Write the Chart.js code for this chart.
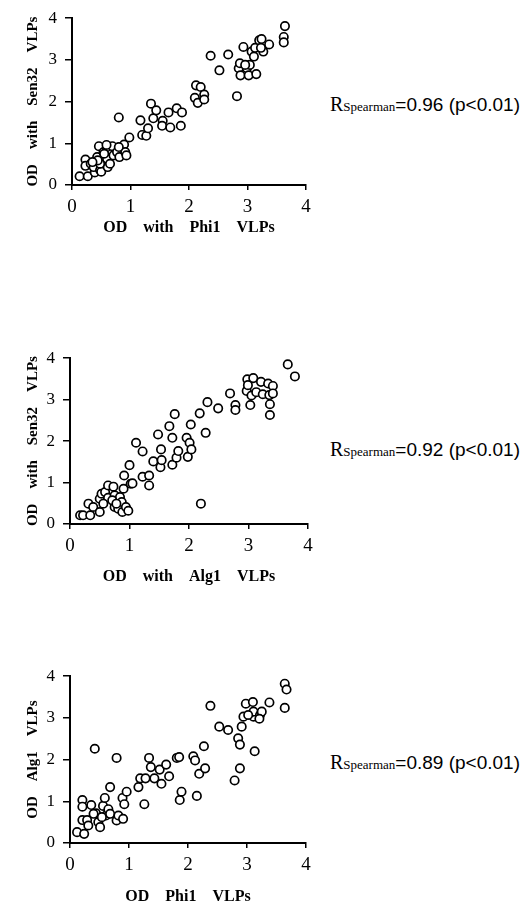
<!DOCTYPE html>
<html>
<head>
<meta charset="utf-8">
<script src="https://cdn.jsdelivr.net/npm/chart.js@4.4.1/dist/chart.umd.min.js"></script>
<style>
  body { margin: 0; background: #fff; width: 529px; height: 907px; position: relative; overflow: hidden; }
  canvas { position: absolute; left: 0; }
  .rs { position: absolute; left: 330px; color: #000; white-space: nowrap; line-height: 1; font-family: "Liberation Serif", serif; }
  .rs span { color: #000; }
  .rs .r { font-size: 20px; }
  .rs .sub { font-size: 13px; }
  .rs .val { font-family: "Liberation Sans", sans-serif; font-size: 19px; }
</style>
</head>
<body>
<canvas id="c1" width="320" height="237" style="top:0px"></canvas>
<canvas id="c2" width="320" height="246" style="top:340px"></canvas>
<canvas id="c3" width="320" height="248" style="top:658px"></canvas>
<div class="rs" style="top:94px"><span class="r">R</span><span class="sub">Spearman</span><span class="val">=0.96 (p&lt;0.01)</span></div>
<div class="rs" style="top:439px"><span class="r">R</span><span class="sub">Spearman</span><span class="val">=0.92 (p&lt;0.01)</span></div>
<div class="rs" style="top:752px"><span class="r">R</span><span class="sub">Spearman</span><span class="val">=0.89 (p&lt;0.01)</span></div>
<script>
// axis ticks shared by all three panels
const tickValues = [0, 1, 2, 3, 4];

// panel 1: Phi1 (x) vs Sen32 (y)
const phiSenX = [0.13, 0.27, 0.23, 0.23, 0.39, 0.32, 0.43, 0.46, 0.37, 0.48, 0.50, 0.54, 0.60, 0.60, 0.61, 0.65,
  0.69, 0.59, 0.71, 0.77, 0.81, 0.80, 0.89, 0.91, 0.93, 0.98, 0.48, 0.44, 1.17, 1.20, 1.27, 1.30, 1.35, 1.39,
  1.44, 1.55, 1.54, 1.65, 1.68, 1.79, 1.88, 1.86, 2.12, 2.10, 2.15, 2.20, 2.26, 2.26, 2.37, 2.52, 2.67, 2.82,
  2.85, 2.87, 2.88, 2.93, 2.99, 3.02, 3.04, 3.07, 3.11, 3.15, 3.13, 3.20, 3.24, 3.27, 3.37, 3.64, 3.62, 3.62,
  2.96, 3.23, 0.80, 0.35, 0.55];
const phiSenY = [0.21, 0.21, 0.61, 0.46, 0.30, 0.51, 0.67, 0.93, 0.43, 0.36, 0.32, 0.79, 0.91, 0.63, 0.43, 0.51,
  0.93, 0.96, 0.71, 0.79, 0.67, 1.62, 0.97, 0.79, 0.71, 1.14, 0.51, 0.59, 1.55, 1.20, 1.18, 1.36, 1.95, 1.60,
  1.79, 1.54, 1.42, 1.74, 1.38, 1.84, 1.74, 1.42, 2.39, 2.09, 1.97, 2.35, 2.17, 2.05, 3.10, 2.75, 3.13, 2.13,
  2.80, 2.92, 2.63, 3.31, 2.80, 2.63, 2.88, 3.20, 3.08, 2.66, 3.29, 3.47, 3.50, 3.20, 3.37, 3.81, 3.55, 3.42,
  2.88, 3.29, 0.91, 0.55, 0.75];

// panel 2: Alg1 (x) vs Sen32 (y)
const algSenX = [0.17, 0.22, 0.34, 0.31, 0.39, 0.50, 0.50, 0.53, 0.59, 0.64, 0.73, 0.64, 0.75, 0.75, 0.81, 0.84,
  0.87, 0.88, 0.94, 0.98, 0.90, 0.91, 1.00, 1.02, 1.05, 1.11, 1.22, 1.22, 1.33, 1.33, 1.40, 1.48, 1.52, 1.53,
  1.54, 1.67, 1.72, 1.72, 1.76, 1.79, 1.82, 1.96, 1.98, 2.01, 2.03, 2.04, 2.18, 2.20, 2.28, 2.31, 2.49, 2.69,
  2.78, 2.78, 2.97, 2.98, 2.99, 3.03, 3.05, 3.08, 3.13, 3.21, 3.24, 3.33, 3.35, 3.36, 3.36, 3.41, 3.41, 3.66,
  3.78, 0.56, 0.71, 0.78];
const algSenY = [0.21, 0.21, 0.21, 0.49, 0.41, 0.29, 0.61, 0.73, 0.77, 0.93, 0.90, 0.63, 0.69, 0.41, 0.37, 0.65,
  0.53, 0.29, 0.41, 0.32, 0.85, 1.17, 1.42, 0.97, 0.98, 1.96, 1.75, 1.14, 1.17, 0.93, 1.51, 2.16, 1.37, 1.80,
  1.54, 2.36, 2.08, 1.43, 2.65, 1.60, 1.76, 2.08, 1.62, 1.96, 2.40, 1.80, 2.67, 0.49, 2.20, 2.94, 2.79, 3.15,
  2.87, 2.75, 3.21, 3.49, 3.35, 2.87, 3.10, 3.52, 3.18, 3.43, 3.13, 3.39, 3.11, 2.89, 2.63, 3.33, 3.15, 3.85,
  3.56, 0.49, 0.57, 0.49];

// panel 3: Phi1 (x) vs Alg1 (y)
const phiAlgX = [0.12, 0.24, 0.21, 0.21, 0.21, 0.29, 0.31, 0.36, 0.42, 0.44, 0.48, 0.51, 0.56, 0.59, 0.61, 0.65,
  0.68, 0.68, 0.79, 0.79, 0.82, 0.90, 0.89, 0.92, 0.96, 0.54, 0.40, 1.16, 1.19, 1.26, 1.28, 1.34, 1.37, 1.43,
  1.52, 1.55, 1.63, 1.68, 1.81, 1.85, 1.86, 1.89, 2.09, 2.12, 2.15, 2.19, 2.27, 2.29, 2.38, 2.53, 2.68, 2.79,
  2.85, 2.88, 2.88, 2.91, 2.94, 2.98, 3.10, 3.11, 3.13, 3.11, 3.22, 3.25, 3.21, 3.38, 3.64, 3.67, 3.64, 3.02];
const phiAlgY = [0.26, 0.22, 1.03, 0.87, 0.55, 0.55, 0.42, 0.91, 2.26, 0.71, 0.50, 0.38, 0.89, 1.08, 0.66, 0.81,
  1.34, 0.70, 2.04, 0.54, 0.66, 0.58, 1.08, 0.93, 1.23, 0.62, 0.70, 1.34, 1.55, 0.93, 1.55, 2.04, 1.82, 1.55,
  1.76, 1.42, 1.88, 1.60, 2.04, 2.06, 1.03, 1.23, 2.08, 1.98, 1.13, 1.66, 2.32, 1.79, 3.29, 2.79, 2.71, 1.50,
  2.51, 2.36, 1.79, 2.79, 3.03, 3.34, 3.38, 3.03, 2.20, 3.15, 3.07, 3.15, 2.98, 3.37, 3.82, 3.68, 3.24, 3.07];

const panels = [
  { id: 'c1', xs: phiSenX, ys: phiSenY, left: 72, right: 306, xh: 52, xTitle: 'OD    with    Phi1    VLPs', yTitle: 'OD    with    Sen32    VLPs' },
  { id: 'c2', xs: algSenX, ys: algSenY, left: 70, right: 308, xh: 62, xTitle: 'OD    with    Alg1    VLPs', yTitle: 'OD    with    Sen32    VLPs' },
  { id: 'c3', xs: phiAlgX, ys: phiAlgY, left: 70, right: 306, xh: 63, xTitle: 'OD    Phi1    VLPs', yTitle: 'OD    Alg1    VLPs' }
];

const SERIF = '"Liberation Serif", "Times New Roman", serif';

function makePanel(p) {
  const pts = p.xs.map((x, i) => ({ x: x, y: p.ys[i] }));
  const canvas = document.getElementById(p.id);
  new Chart(canvas, {
    type: 'scatter',
    data: {
      datasets: [{
        data: pts,
        pointRadius: 4.2,
        pointBorderWidth: 1.7,
        pointBackgroundColor: '#fff',
        pointBorderColor: '#000'
      }]
    },
    options: {
      responsive: false,
      animation: false,
      layout: { padding: { top: 16, right: canvas.width - p.right, left: 0, bottom: 0 } },
      plugins: { legend: { display: false }, tooltip: { enabled: false } },
      scales: {
        x: {
          type: 'linear', min: 0, max: 4,
          afterBuildTicks: s => { s.ticks = tickValues.map(v => ({ value: v })); },
          ticks: { color: '#000', font: { family: SERIF, size: 19 }, padding: 6, maxRotation: 0 },
          grid: { drawOnChartArea: false, tickLength: 5, color: '#000', lineWidth: 1.5 },
          border: { color: '#000', width: 2 },
          title: { display: true, text: p.xTitle, color: '#000', font: { family: SERIF, size: 16, weight: 'bold' }, padding: { top: 0, bottom: 0 } },
          afterFit: s => { s.height = p.xh; }
        },
        y: {
          type: 'linear', min: 0, max: 4,
          afterBuildTicks: s => { s.ticks = tickValues.map(v => ({ value: v })); },
          ticks: { color: '#000', font: { family: SERIF, size: 17 }, padding: 8 },
          grid: { drawOnChartArea: false, tickLength: 7, color: '#000', lineWidth: 1.5 },
          border: { color: '#000', width: 2 },
          title: { display: true, text: p.yTitle, color: '#000', font: { family: SERIF, size: 15, weight: 'bold' }, padding: { top: 24, bottom: 0 } },
          afterFit: s => { s.width = p.left; }
        }
      }
    }
  });
}

panels.forEach(makePanel);
</script>
</body>
</html>
